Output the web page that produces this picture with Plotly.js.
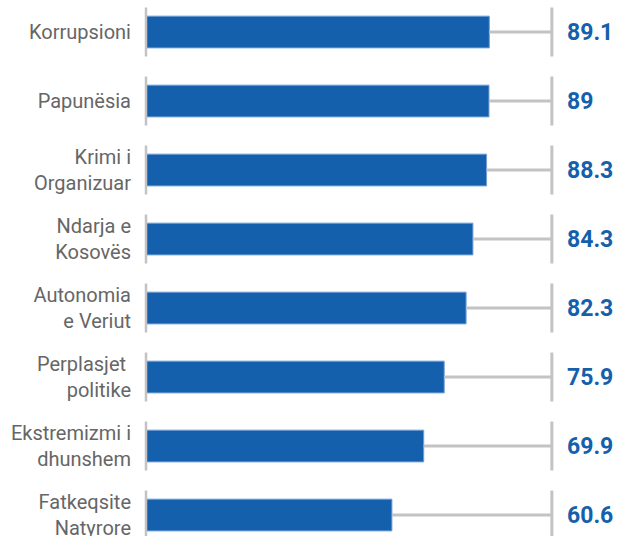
<!DOCTYPE html>
<html>
<head>
<meta charset="utf-8">
<script src="https://cdn.plot.ly/plotly-3.0.1.min.js"></script>
<style>html,body{margin:0;padding:0;background:#fff;}#chart{width:625px;height:536px;}</style>
</head>
<body>
<div id="chart"></div>
<script>
// Data
const CATEGORIES = [
  "Korrupsioni",
  "Papunësia",
  "Krimi i<br>Organizuar",
  "Ndarja e<br>Kosovës",
  "Autonomia<br>e Veriut",
  "Perplasjet\u00a0<br>politike",
  "Ekstremizmi i<br>dhunshem",
  "Fatkeqsite<br>Natyrore"
];
const VALUES = [89.1, 89, 88.3, 84.3, 82.3, 75.9, 69.9, 60.6];
const VALUE_LABELS = ["89.1", "89", "88.3", "84.3", "82.3", "75.9", "69.9", "60.6"];

// Styling / scale constants
const XMIN = -11.36, XMAX = 128.8, LINE_END = 107.4;
const BLUE = "#1560ac", GREY = "#c3c3c6";

const bars = {
  type: "bar",
  orientation: "h",
  y: CATEGORIES,
  x: VALUES.map(v => v - XMIN),
  base: XMIN,
  width: 0.46,
  marker: {color: BLUE, line: {color: "#6f9fd6", width: 1}},
  hoverinfo: "skip"
};

const cx = [], cy = [];
CATEGORIES.forEach((c, i) => { cx.push(VALUES[i], LINE_END, null); cy.push(c, c, null); });
const connectors = {
  type: "scatter", mode: "lines", x: cx, y: cy,
  line: {color: GREY, width: 3}, hoverinfo: "skip", cliponaxis: false
};

const shapes = [];
CATEGORIES.forEach((c, i) => {
  shapes.push({type: "line", xref: "paper", yref: "y", x0: 0, x1: 0, y0: i - 0.355, y1: i + 0.355,
    line: {color: GREY, width: 2.5}, layer: "above"});
  shapes.push({type: "line", xref: "x", yref: "y", x0: LINE_END, x1: LINE_END, y0: i - 0.355, y1: i + 0.355,
    line: {color: GREY, width: 3}, layer: "above"});
});

const annotations = CATEGORIES.map((c, i) => ({
  x: LINE_END, y: c, xref: "x", yref: "y", text: VALUE_LABELS[i],
  xanchor: "left", yanchor: "middle", xshift: 13, showarrow: false,
  font: {family: "Roboto, Arial, sans-serif", size: 23, color: BLUE, weight: "bold"}
}));

const layout = {
  width: 625, height: 536,
  margin: {l: 146, r: 0, t: 0, b: 0, pad: 0},
  paper_bgcolor: "#fff", plot_bgcolor: "#fff",
  showlegend: false,
  xaxis: {range: [XMIN, XMAX], visible: false, fixedrange: true},
  yaxis: {
    type: "category", range: [7.304, -0.464],
    showgrid: false, zeroline: false, showline: false, ticks: "",
    ticklabelstandoff: 14,
    tickfont: {family: "Roboto, Arial, sans-serif", size: 20, color: "#666666"},
    fixedrange: true
  },
  shapes: shapes,
  annotations: annotations,
  bargap: 0
};

Plotly.newPlot("chart", [bars, connectors], layout, {staticPlot: true, displayModeBar: false});
</script>
</body>
</html>
